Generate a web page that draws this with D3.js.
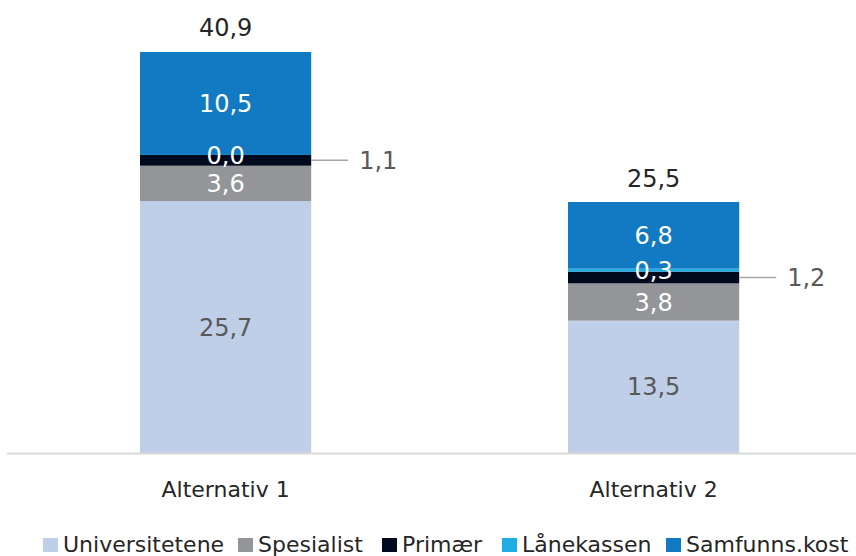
<!DOCTYPE html>
<html><head><meta charset="utf-8">
<script src="https://cdn.jsdelivr.net/npm/d3@7"></script>
<style>body{margin:0;background:#fff}svg{display:block}text{font-family:"DejaVu Sans",sans-serif}</style>
</head><body><svg id="c" width="856" height="556"></svg>
<script>
const categories = ["Alternativ 1", "Alternativ 2"];
const seriesNames = ["Universitetene", "Spesialist", "Primær", "Lånekassen", "Samfunns.kost"];
const universitetene = [25.7, 13.5];
const spesialist = [3.6, 3.8];
const primaer = [1.1, 1.2];
const laanekassen = [0.0, 0.3];
const samfunnskost = [10.5, 6.8];
const totals = [40.9, 25.5];
const colors = ["#BFCFE8", "#939598", "#000A1E", "#1EADE4", "#127AC2"];
const labelColors = ["#595959", "#ffffff", null, "#ffffff", "#ffffff"];

const seriesVals = [universitetene, spesialist, primaer, laanekassen, samfunnskost];
const rows = categories.map((c, i) => {
  const o = {cat: c};
  seriesNames.forEach((s, j) => o[s] = seriesVals[j][i]);
  return o;
});
const stack = d3.stack().keys(seriesNames)(rows);

const svg = d3.select("#c");
const base = 453;
const x = d3.scaleBand().domain(categories).range([11.6, 867.6]).paddingInner(0.6).paddingOuter(0.3);
const y = d3.scaleLinear().domain([0, 40.9]).range([base, 52]);
const fmt = v => d3.format(".1f")(v).replace(".", ",");

const g = svg.append("g");
stack.forEach((s, j) => {
  g.selectAll(null).data(s).enter().append("rect")
    .attr("x", d => x(d.data.cat))
    .attr("width", x.bandwidth())
    .attr("y", d => y(d[1]))
    .attr("height", d => y(d[0]) - y(d[1]))
    .attr("fill", colors[j]);
});

// axis line
svg.append("line").attr("x1", 7).attr("x2", 856).attr("y1", base + 0.5).attr("y2", base + 0.5)
  .attr("stroke", "#d9d9d9").attr("stroke-width", 2);

const vfs = 24;
// segment labels
stack.forEach((s, j) => {
  s.forEach((d, i) => {
    const v = seriesVals[j][i];
    if (labelColors[j]) {
      svg.append("text")
        .attr("x", x(d.data.cat) + x.bandwidth() / 2)
        .attr("y", (y(d[0]) + y(d[1])) / 2)
        .attr("dy", "0.36em")
        .attr("text-anchor", "middle")
        .attr("font-size", vfs)
        .attr("fill", labelColors[j])
        .text(fmt(v));
    } else {
      const ym = (y(d[0]) + y(d[1])) / 2;
      const x0 = x(d.data.cat) + x.bandwidth();
      svg.append("line").attr("x1", x0).attr("x2", x0 + 37).attr("y1", ym).attr("y2", ym)
        .attr("stroke", "#a6a6a6").attr("stroke-width", 1.5);
      svg.append("text")
        .attr("x", x0 + 48).attr("y", ym).attr("dy", "0.36em")
        .attr("font-size", vfs).attr("fill", "#595959").text(fmt(v));
    }
  });
});

// totals
categories.forEach((c, i) => {
  svg.append("text").attr("x", x(c) + x.bandwidth() / 2).attr("y", y(totals[i]) - 16)
    .attr("text-anchor", "middle").attr("font-size", vfs).attr("fill", "#262626")
    .text(fmt(totals[i]));
});

// category axis labels
const xAxis = d3.axisBottom(x).tickSize(0).tickPadding(0);
const ax = svg.append("g").attr("transform", `translate(0,${base})`).call(xAxis);
ax.select(".domain").remove();
ax.selectAll("text").attr("y", 44).attr("dy", null).attr("font-size", 22).attr("fill", "#262626")
  .style("font-family", '"DejaVu Sans",sans-serif');

// legend
const legX = [43, 238, 382, 502, 666];
const leg = svg.append("g");
seriesNames.forEach((s, j) => {
  leg.append("rect").attr("x", legX[j]).attr("y", 538).attr("width", 15).attr("height", 14).attr("fill", colors[j]);
  leg.append("text").attr("x", legX[j] + 20).attr("y", 552)
    .attr("font-size", 22).attr("fill", "#262626").text(s);
});
</script></body></html>
